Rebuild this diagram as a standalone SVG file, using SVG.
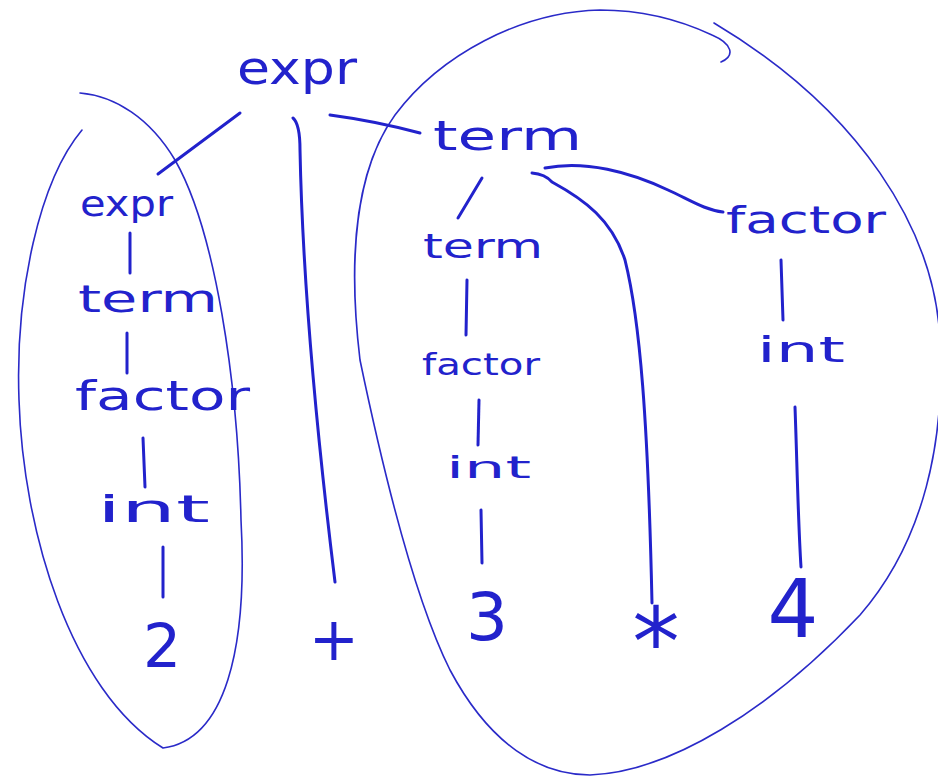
<svg xmlns="http://www.w3.org/2000/svg" width="938" height="777" viewBox="0 0 938 777">
<style>
.t{font-family:"DejaVu Sans","Liberation Sans",sans-serif;fill:#2222cc;}
.c{fill:none;stroke:#2222cc;stroke-width:3;stroke-linecap:round;stroke-linejoin:round;}
.e{fill:none;stroke:#2a2ac8;stroke-width:1.6;stroke-linecap:round;}
</style>
<rect width="938" height="777" fill="#ffffff"/>
<g id="groups">
<path id="left-group" class="e" d="M82,130 C40,180 15,290 19,400 C23,530 70,690 163,748 C225,740 248,650 241,520 C238,380 215,230 175,160 C150,118 115,96 80,93"/>
<path id="right-group" class="e" d="M721,62 C735,56 733,44 712,35 C680,20 640,10 600,10 C520,12 440,55 395,115 C355,170 348,260 360,360 C385,480 415,600 450,670 C490,745 540,775 590,775 C670,772 770,710 860,615 C925,540 945,440 940,340 C935,230 860,110 714,23"/>
</g>
<g id="connectors">
<path class="c" d="M240,113 L158,174"/>
<path class="c" d="M293,118 Q300,124 300,150 C303,300 320,460 335,582"/>
<path class="c" d="M330,115 Q375,121 420,133"/>
<path class="c" d="M482,178 L458,218"/>
<path class="c" d="M532,173 Q545,174 552,182 C585,200 612,220 625,260 C640,320 648,420 652,603"/>
<path class="c" d="M545,168 C585,160 630,172 668,190 C690,200 705,210 723,212"/>
<path class="c" d="M130,233 L130,273"/>
<path class="c" d="M127,333 L127,373"/>
<path class="c" d="M143,438 L145,487"/>
<path class="c" d="M163,547 L163,597"/>
<path class="c" d="M467,280 L466,335"/>
<path class="c" d="M479,400 L478,445"/>
<path class="c" d="M481,510 L482,563"/>
<path class="c" d="M781,260 L783,320"/>
<path class="c" d="M795,407 C797,460 798,520 801,567"/>
</g>
<g id="n-expr-root"><text class="t" x="237" y="84" font-size="46" textLength="120" lengthAdjust="spacingAndGlyphs">expr</text></g>
<g id="n-term-root"><text class="t" x="433" y="150" font-size="40" textLength="149" lengthAdjust="spacingAndGlyphs">term</text></g>
<g id="n-expr-left"><text class="t" x="80" y="216" font-size="36" textLength="93" lengthAdjust="spacingAndGlyphs">expr</text></g>
<g id="n-term-left"><text class="t" x="78" y="312" font-size="38" textLength="140" lengthAdjust="spacingAndGlyphs">term</text></g>
<g id="n-factor-left"><text class="t" x="75" y="410" font-size="40" textLength="175" lengthAdjust="spacingAndGlyphs">factor</text></g>
<g id="n-int-left"><text class="t" x="97" y="522" font-size="38" textLength="113" lengthAdjust="spacingAndGlyphs">int</text></g>
<g id="n-2"><text class="t" x="162" y="667" font-size="60" text-anchor="middle">2</text></g>
<g id="n-plus"><text class="t" x="334" y="660" font-size="60" text-anchor="middle">+</text></g>
<g id="n-term-mid"><text class="t" x="423" y="258" font-size="34" textLength="120" lengthAdjust="spacingAndGlyphs">term</text></g>
<g id="n-factor-mid"><text class="t" x="422" y="375" font-size="30" textLength="118" lengthAdjust="spacingAndGlyphs">factor</text></g>
<g id="n-int-mid"><text class="t" x="446" y="478" font-size="30" textLength="85" lengthAdjust="spacingAndGlyphs">int</text></g>
<g id="n-3"><text class="t" x="487" y="640" font-size="66" text-anchor="middle">3</text></g>
<g id="n-star"><text class="t" x="656" y="675" font-size="95" text-anchor="middle">*</text></g>
<g id="n-factor-right"><text class="t" x="726" y="233" font-size="38" textLength="160" lengthAdjust="spacingAndGlyphs">factor</text></g>
<g id="n-int-right"><text class="t" x="757" y="362" font-size="36" textLength="88" lengthAdjust="spacingAndGlyphs">int</text></g>
<g id="n-4"><text class="t" x="793" y="637" font-size="80" text-anchor="middle">4</text></g>
</svg>
